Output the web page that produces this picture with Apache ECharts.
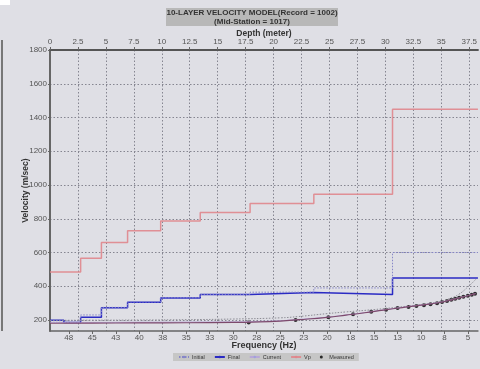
<!DOCTYPE html>
<html>
<head>
<meta charset="utf-8">
<script src="https://cdn.jsdelivr.net/npm/echarts@6/dist/echarts.min.js"></script>
<style>
html,body{margin:0;padding:0;background:#dfdfe5;}
#chart{width:480px;height:369px;}
</style>
</head>
<body>
<div id="chart"></div>
<script>
// ---- data ----
const depthTicks = [0, 2.5, 5, 7.5, 10, 12.5, 15, 17.5, 20, 22.5, 25, 27.5, 30, 32.5, 35, 37.5];
const freqTicks = [47.5, 45, 42.5, 40, 37.5, 35, 32.5, 30, 27.5, 25, 22.5, 20, 17.5, 15, 12.5, 10, 7.5, 5];
const velTicks = [200, 400, 600, 800, 1000, 1200, 1400, 1600, 1800];

const layerTop = [0, 1.24, 2.74, 4.6, 6.94, 9.9, 13.44, 17.9, 23.6, 30.64];
const vpVel = [485, 484, 566, 660, 729, 787, 837, 891, 945, 1449];
const finalVel = [198, 185, 216, 273, 305, 330, 352, 363, 352, 449];
const initialVel = [196, 196, 230, 275, 307, 332, 352, 365, 390, 600];
const depthEnd = 38.28;

const measuredFreq = [28.35, 23.36, 19.87, 17.24, 15.31, 13.73, 12.5, 11.34, 10.5, 9.7, 9.0, 8.3, 7.77, 7.24, 6.79, 6.37, 5.95, 5.5, 5.03, 4.61, 4.26];
const measuredVel = [185, 200, 217, 234, 249, 261, 271, 277, 283, 288, 293, 300, 307, 313, 320, 326, 332, 338, 344, 350, 355];

const dispFreq = [49.5, 45, 40, 35, 30, 28, 25, 23, 20, 18, 16, 14, 12, 10, 8, 7, 6, 5, 4.2];
const finalDispVel = [181, 182, 183, 184, 186, 188, 194, 202, 216, 229, 243, 259, 274, 288, 304, 316, 330, 344, 356];
const currentDispVel = [186, 186, 187, 188, 189, 191, 196, 204, 217, 230, 244, 260, 275, 289, 305, 317, 331, 345, 357];

const initDispFreq = [49.5, 45, 40, 35, 30, 25, 23, 20, 18, 15, 12.5, 10, 8, 7, 6, 5, 4.2];
const initDispVel = [198, 199, 200, 202, 206, 213, 221, 238, 248, 262, 276, 292, 310, 326, 352, 397, 440];

// ---- build ----
function profile(vals) {
  const d = layerTop.map((t, i) => [t, vals[i]]);
  d.push([depthEnd, vals[vals.length - 1]]);
  return d;
}
function pairs(xs, ys) { return xs.map((x, i) => [x, ys[i]]); }

const FONT = 'Liberation Sans';
const GRID = {color: '#858590', type: [1.5, 2], width: 1};
const chart = echarts.init(document.getElementById('chart'), null, {renderer: 'canvas'});
chart.setOption({
  backgroundColor: '#dfdfe5',
  animation: false,
  textStyle: {fontFamily: FONT},
  grid: {left: 50, top: 50, width: 433, height: 281},
  xAxis: [
    {
      type: 'value', position: 'bottom', inverse: true, min: 3.95, max: 49.5,
      name: 'Frequency (Hz)', nameLocation: 'middle', nameGap: 10, nameMoveOverlap: false,
      nameTextStyle: {fontSize: 9, fontWeight: 'bold', color: '#333', fontFamily: FONT},
      axisLine: {lineStyle: {color: '#666', width: 1.5}},
      axisTick: {show: true, length: 3, customValues: freqTicks, lineStyle: {color: '#666'}},
      axisLabel: {customValues: freqTicks, formatter: v => String(Math.round(v)), fontSize: 8, color: '#555', margin: 3, fontFamily: FONT},
      splitLine: {show: false}
    },
    {
      type: 'value', position: 'top', min: 0, max: depthEnd,
      name: 'Depth (meter)', nameLocation: 'middle', nameGap: 12, nameMoveOverlap: false,
      nameTextStyle: {fontSize: 8.5, fontWeight: 'bold', color: '#333', fontFamily: FONT},
      axisLine: {lineStyle: {color: '#555', width: 2}},
      axisTick: {show: true, length: 3, customValues: depthTicks, lineStyle: {color: '#666'}},
      axisLabel: {customValues: depthTicks, formatter: v => String(v), fontSize: 8, color: '#555', margin: 4, fontFamily: FONT},
      splitLine: {show: true, lineStyle: GRID}
    }
  ],
  yAxis: {
    type: 'value', min: 135, max: 1800,
    name: 'Velocity (m/sec)', nameLocation: 'middle', nameGap: 20, nameMoveOverlap: false,
    nameTextStyle: {fontSize: 8.5, fontWeight: 'bold', color: '#333', fontFamily: FONT},
    axisLine: {show: true, lineStyle: {color: '#666', width: 2}},
    axisTick: {show: true, length: 2, customValues: velTicks, lineStyle: {color: '#666'}},
    axisLabel: {customValues: velTicks, formatter: v => String(v), fontSize: 8, color: '#555', margin: 3, fontFamily: FONT},
    splitLine: {show: true, lineStyle: GRID}
  },
  legend: {
    data: ['Initial', 'Final', 'Current', 'Vp', 'Measured'],
    left: 173, top: 353, backgroundColor: '#c6c6c6', padding: [1, 5],
    itemWidth: 10, itemHeight: 3, itemGap: 9,
    textStyle: {fontSize: 5.5, color: '#333', fontFamily: FONT, padding: [0, 0, 0, -2]}
  },
  graphic: [
    {type: 'rect', shape: {x: 166, y: 8, width: 172, height: 18}, style: {fill: '#b8b8b8'}},
    {type: 'text', x: 252, y: 9, style: {text: '10-LAYER VELOCITY MODEL(Record = 1002)\n(Mid-Station = 1017)', font: 'bold 8px "Liberation Sans"', fill: '#333', align: 'center', lineHeight: 8.5}},
    {type: 'line', shape: {x1: 2, y1: 40, x2: 2, y2: 331}, style: {stroke: '#777', lineWidth: 2}},
    {type: 'rect', shape: {x: 0, y: 0, width: 10, height: 5}, style: {fill: '#ffffff'}}
  ],
  series: [
    {name: 'Vp', type: 'line', xAxisIndex: 1, step: 'end', symbol: 'none', data: profile(vpVel),
     lineStyle: {color: '#e0868c', width: 1.5, opacity: 0.9}, itemStyle: {color: '#e0868c'}},
    {name: 'Final', type: 'line', xAxisIndex: 1, step: 'end', symbol: 'none', data: profile(finalVel),
     lineStyle: {color: '#2b2bc4', width: 1.5}, itemStyle: {color: '#2b2bc4'}},
    {name: 'Initial', type: 'line', xAxisIndex: 1, step: 'end', symbol: 'none', data: profile(initialVel),
     lineStyle: {color: '#8686c8', width: 1, type: [1.5, 1.5]}, itemStyle: {color: '#8686c8'}},
    {name: 'Initial dispersion', type: 'line', xAxisIndex: 0, symbol: 'none', smooth: true, data: pairs(initDispFreq, initDispVel),
     lineStyle: {color: '#8c8c94', width: 1, type: [1.5, 1.5]}},
    {name: 'Current', type: 'line', xAxisIndex: 0, symbol: 'none', smooth: true, data: pairs(dispFreq, currentDispVel),
     lineStyle: {color: '#b8a8d8', width: 1}, itemStyle: {color: '#a0a0dc'}},
    {name: 'Final dispersion', type: 'line', xAxisIndex: 0, symbol: 'none', smooth: true, data: pairs(dispFreq, finalDispVel),
     lineStyle: {color: '#7d4a6c', width: 1.2}},
    {name: 'Measured', type: 'scatter', xAxisIndex: 0, symbol: 'circle', symbolSize: 4, data: pairs(measuredFreq, measuredVel),
     itemStyle: {color: '#000'}}
  ]
});
</script>
</body>
</html>
